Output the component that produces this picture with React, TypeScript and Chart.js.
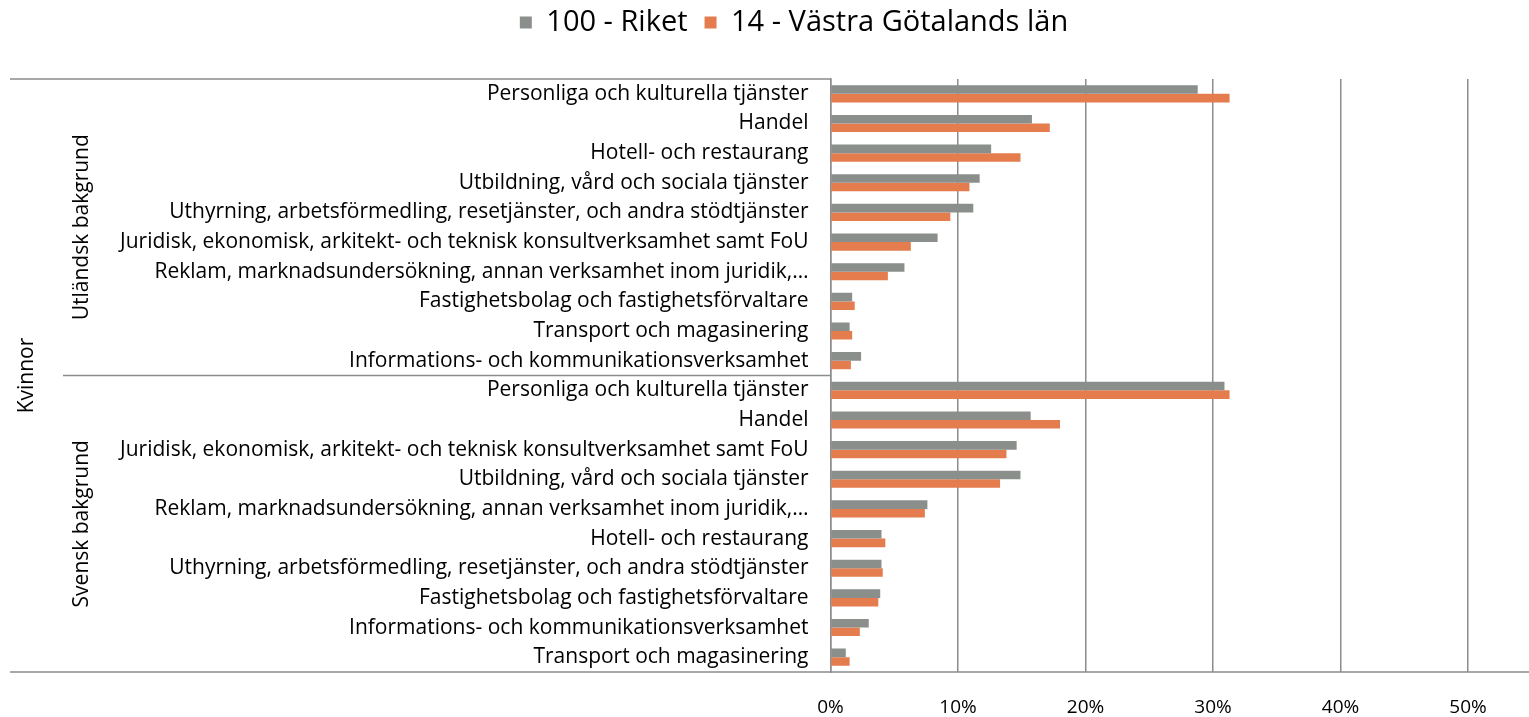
import React, { useEffect, useRef } from "react";
import { Chart, registerables } from "chart.js";

Chart.register(...registerables);

const GROUP_LABELS = ["Utländsk bakgrund", "Svensk bakgrund"];
const OUTER_LABEL = "Kvinnor";

const CATEGORIES_UTL = [
  "Personliga och kulturella tjänster",
  "Handel",
  "Hotell- och restaurang",
  "Utbildning, vård och sociala tjänster",
  "Uthyrning, arbetsförmedling, resetjänster, och andra stödtjänster",
  "Juridisk, ekonomisk, arkitekt- och teknisk konsultverksamhet samt FoU",
  "Reklam, marknadsundersökning, annan verksamhet inom juridik,…",
  "Fastighetsbolag och fastighetsförvaltare",
  "Transport och magasinering",
  "Informations- och kommunikationsverksamhet",
];
const CATEGORIES_SV = [
  "Personliga och kulturella tjänster",
  "Handel",
  "Juridisk, ekonomisk, arkitekt- och teknisk konsultverksamhet samt FoU",
  "Utbildning, vård och sociala tjänster",
  "Reklam, marknadsundersökning, annan verksamhet inom juridik,…",
  "Hotell- och restaurang",
  "Uthyrning, arbetsförmedling, resetjänster, och andra stödtjänster",
  "Fastighetsbolag och fastighetsförvaltare",
  "Informations- och kommunikationsverksamhet",
  "Transport och magasinering",
];

const SERIES_NAMES = ["100 - Riket", "14 - Västra Götalands län"];
const RIKET_UTL = [28.8, 15.8, 12.6, 11.7, 11.2, 8.4, 5.8, 1.7, 1.5, 2.4];
const VG_UTL = [31.3, 17.2, 14.9, 10.9, 9.4, 6.3, 4.5, 1.9, 1.7, 1.6];
const RIKET_SV = [30.9, 15.7, 14.6, 14.9, 7.6, 4.0, 4.0, 3.9, 3.0, 1.2];
const VG_SV = [31.3, 18.0, 13.8, 13.3, 7.4, 4.3, 4.1, 3.75, 2.3, 1.5];

const X_TICKS = [0, 10, 20, 30, 40, 50];

const GREY = "#8B8F8C";
const ORANGE = "#E57C4E";
const LINE = "#8C8C8C";
const FONT = "'Open Sans'";

export default function App() {
  const ref = useRef<HTMLCanvasElement | null>(null);

  useEffect(() => {
    document.body.style.margin = "0";
    const canvas = ref.current;
    if (!canvas) return;
    const labels = [...CATEGORIES_UTL, ...CATEGORIES_SV];
    const n1 = CATEGORIES_UTL.length;

    const legendGap = {
      id: "legendGap",
      beforeInit(chart: any) {
        const legend = chart.legend;
        if (!legend) return;
        const orig = legend.fit;
        legend.fit = function () {
          orig.call(this);
          this.height += 32;
        };
      },
      afterLayout(chart: any) {
        const legend = chart.legend;
        if (legend) {
          legend.left += 120;
        }
      },
    };

    const decor = {
      id: "decor",
      afterDraw(chart: any) {
        const ctx = chart.ctx;
        const ca = chart.chartArea;
        const total = labels.length;
        const rowH = (ca.bottom - ca.top) / total;
        const sepY = ca.top + rowH * n1;
        ctx.save();
        ctx.strokeStyle = LINE;
        ctx.lineWidth = 1.5;
        ctx.beginPath();
        ctx.moveTo(10, ca.top);
        ctx.lineTo(ca.left, ca.top);
        ctx.moveTo(63, sepY);
        ctx.lineTo(ca.left, sepY);
        ctx.moveTo(10, ca.bottom);
        ctx.lineTo(chart.width, ca.bottom);
        ctx.stroke();

        ctx.fillStyle = "#000";
        ctx.font = `21px ${FONT}`;
        ctx.textAlign = "center";
        ctx.textBaseline = "middle";
        const drawRot = (text: string, x: number, y: number) => {
          ctx.save();
          ctx.translate(x, y);
          ctx.rotate(-Math.PI / 2);
          ctx.fillText(text, 0, 0);
          ctx.restore();
        };
        drawRot(GROUP_LABELS[0], 82, (ca.top + sepY) / 2);
        drawRot(GROUP_LABELS[1], 82, (sepY + ca.bottom) / 2);
        drawRot(OUTER_LABEL, 27, (ca.top + ca.bottom) / 2);
        ctx.restore();
      },
    };

    const chart = new Chart(canvas, {
      type: "bar",
      data: {
        labels,
        datasets: [
          {
            label: SERIES_NAMES[0],
            data: [...RIKET_UTL, ...RIKET_SV],
            backgroundColor: GREY,
            barPercentage: 1,
            categoryPercentage: 0.58,
          },
          {
            label: SERIES_NAMES[1],
            data: [...VG_UTL, ...VG_SV],
            backgroundColor: ORANGE,
            barPercentage: 1,
            categoryPercentage: 0.58,
          },
        ],
      },
      options: {
        indexAxis: "y",
        responsive: false,
        animation: false,
        layout: { padding: { top: -9, right: 61, bottom: 0, left: 0 } },
        plugins: {
          legend: {
            display: true,
            position: "top",
            labels: {
              boxWidth: 12,
              boxHeight: 12,
              padding: 17,
              color: "#000",
              font: { family: FONT, size: 29 },
            },
          },
          tooltip: { enabled: false },
        },
        scales: {
          x: {
            min: 0,
            max: 50,
            afterBuildTicks: (scale: any) => {
              scale.ticks = X_TICKS.map((v) => ({ value: v }));
            },
            afterFit: (scale: any) => {
              scale.height = 45;
            },
            ticks: {
              color: "#000",
              font: { family: FONT, size: 19 },
              padding: 24,
              callback: (v: any) => `${v}%`,
            },
            grid: { display: true, color: LINE, lineWidth: 1.5, drawTicks: false },
            border: { display: false },
          },
          y: {
            afterFit: (scale: any) => {
              scale.width = 830.5;
            },
            ticks: {
              autoSkip: false,
              color: "#000",
              font: { family: FONT, size: 21 },
              padding: 22,
            },
            grid: { display: false, drawTicks: false },
            border: { display: true, color: LINE, width: 1.5 },
          },
        },
      },
      plugins: [legendGap, decor],
    });
    return () => chart.destroy();
  }, []);

  return <canvas ref={ref} width={1529} height={717} style={{ display: "block" }} />;
}
